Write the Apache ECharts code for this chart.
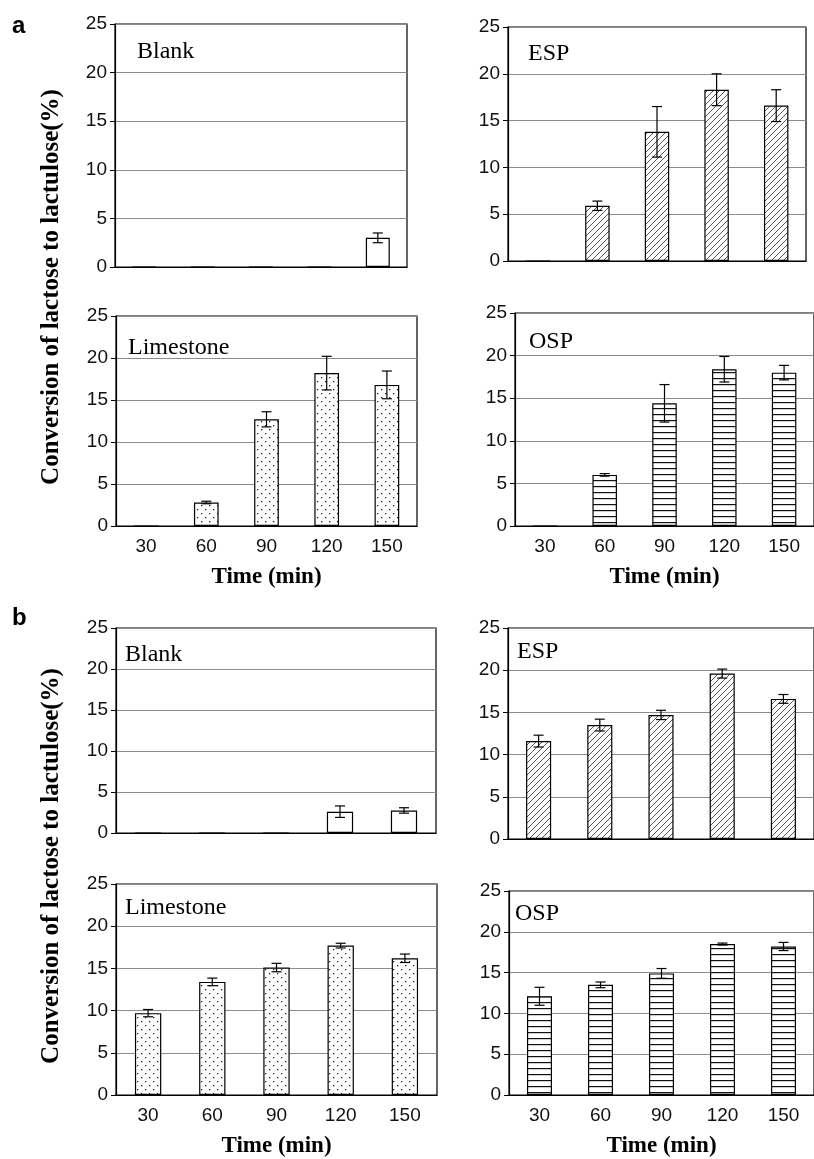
<!DOCTYPE html>
<html>
<head>
<meta charset="utf-8">
<script src="https://cdn.jsdelivr.net/npm/echarts@6/dist/echarts.min.js"></script>
<style>
  html, body { margin: 0; padding: 0; background: #fff; }
  #chart { width: 814px; height: 1159px; }
</style>
</head>
<body>
<div id="chart"></div>
<script>
// time points (min)
const timeLabels = ['30', '60', '90', '120', '150']

// panel a
const aBlank = [0, 0, 0, 0, 3.0]
const aBlankErr = [0, 0, 0, 0, 0.5]
const aEsp = [0, 5.9, 13.8, 18.3, 16.6]
const aEspErr = [0, 0.5, 2.7, 1.7, 1.7]
const aLime = [0, 2.8, 12.7, 18.2, 16.8]
const aLimeErr = [0, 0.15, 0.9, 2.0, 1.65]
const aOsp = [0, 6.0, 14.4, 18.4, 18.0]
const aOspErr = [0, 0.15, 2.2, 1.5, 0.85]

// panel b
const bBlank = [0, 0, 0, 2.6, 2.75]
const bBlankErr = [0, 0, 0, 0.7, 0.33]
const bEsp = [11.6, 13.5, 14.7, 19.6, 16.6]
const bEspErr = [0.7, 0.7, 0.55, 0.53, 0.52]
const bLime = [9.7, 13.4, 15.1, 17.7, 16.2]
const bLimeErr = [0.43, 0.45, 0.5, 0.28, 0.5]
const bOsp = [12.1, 13.5, 14.9, 18.5, 18.2]
const bOspErr = [1.1, 0.35, 0.6, 0.12, 0.5]

const yTicks = { min: 0, max: 25, interval: 5 }

const SERIF = '"Liberation Serif", "Times New Roman", serif'
const SANS = '"Liberation Sans", Arial, sans-serif'

// fill patterns
function makePattern(kind) {
  const c = document.createElement('canvas')
  const ctx = c.getContext('2d')
  if (kind === 'hatch') {
    c.width = 6; c.height = 6
    ctx.fillStyle = '#fff'; ctx.fillRect(0, 0, 6, 6)
    ctx.strokeStyle = '#444'; ctx.lineWidth = 0.9
    ctx.beginPath()
    ctx.moveTo(-1, 7); ctx.lineTo(7, -1)
    ctx.moveTo(-1, 1); ctx.lineTo(1, -1)
    ctx.moveTo(5, 7); ctx.lineTo(7, 5)
    ctx.stroke()
  } else if (kind === 'dots') {
    c.width = 8; c.height = 8
    ctx.fillStyle = '#fff'; ctx.fillRect(0, 0, 8, 8)
    ctx.fillStyle = '#222'
    ctx.fillRect(1, 1, 1.3, 1.3)
    ctx.fillRect(5, 5, 1.3, 1.3)
  } else if (kind === 'hlines') {
    c.width = 4; c.height = 6
    ctx.fillStyle = '#fff'; ctx.fillRect(0, 0, 4, 6)
    ctx.fillStyle = '#111'
    ctx.fillRect(0, 0, 4, 1.2)
  } else {
    return '#fff'
  }
  return { image: c, repeat: 'repeat' }
}

const panels = [
  { name: 'Blank', vals: aBlank, errs: aBlankErr, fill: 'none', grid: { left: 115, top: 24, width: 292, height: 243 }, bottom: false, tag: [137, 53] },
  { name: 'ESP', vals: aEsp, errs: aEspErr, fill: 'hatch', grid: { left: 508, top: 27, width: 298, height: 234 }, bottom: false, tag: [528, 55] },
  { name: 'Limestone', vals: aLime, errs: aLimeErr, fill: 'dots', grid: { left: 116, top: 316, width: 301, height: 210 }, bottom: true, tag: [128, 349] },
  { name: 'OSP', vals: aOsp, errs: aOspErr, fill: 'hlines', grid: { left: 515, top: 313, width: 303, height: 213 }, bottom: true, tag: [529, 343] },
  { name: 'Blank', vals: bBlank, errs: bBlankErr, fill: 'none', grid: { left: 116, top: 628, width: 320, height: 205 }, bottom: false, tag: [125, 656] },
  { name: 'ESP', vals: bEsp, errs: bEspErr, fill: 'hatch', grid: { left: 508, top: 628, width: 310, height: 211 }, bottom: false, tag: [517, 653] },
  { name: 'Limestone', vals: bLime, errs: bLimeErr, fill: 'dots', grid: { left: 116, top: 884, width: 321, height: 215 }, bottom: true, tag: [125, 909] },
  { name: 'OSP', vals: bOsp, errs: bOspErr, fill: 'hlines', grid: { left: 509, top: 891, width: 311, height: 208 }, bottom: true, tag: [515, 915] }
]

function errorBar(params, api) {
  const idx = api.value(0)
  const v = api.value(1)
  const e = api.value(2)
  if (!e) return
  const hi = api.coord([idx, v + e])
  const lo = api.coord([idx, v - e])
  const half = 5
  const style = { stroke: '#000', lineWidth: 1.2 }
  return {
    type: 'group',
    children: [
      { type: 'line', shape: { x1: hi[0], y1: hi[1], x2: lo[0], y2: lo[1] }, style },
      { type: 'line', shape: { x1: hi[0] - half, y1: hi[1], x2: hi[0] + half, y2: hi[1] }, style },
      { type: 'line', shape: { x1: lo[0] - half, y1: lo[1], x2: lo[0] + half, y2: lo[1] }, style }
    ]
  }
}

const chart = echarts.init(document.getElementById('chart'), null, { renderer: 'canvas' })

const grid = []
const xAxis = []
const yAxis = []
const series = []
const graphic = []

panels.forEach((p, i) => {
  grid.push(Object.assign({ show: true, borderColor: '#000', borderWidth: 1.2, backgroundColor: 'transparent' }, p.grid))
  xAxis.push({
    type: 'category',
    gridIndex: i,
    data: timeLabels,
    axisLine: { lineStyle: { color: '#000', width: 1.2 } },
    axisTick: { show: false },
    axisLabel: { show: p.bottom, color: '#111', fontFamily: SANS, fontSize: 19, margin: 11 },
    name: p.bottom ? 'Time (min)' : '',
    nameLocation: 'middle',
    nameGap: 40,
    nameTextStyle: { color: '#000', fontFamily: SERIF, fontWeight: 'bold', fontSize: 23 }
  })
  yAxis.push({
    type: 'value',
    gridIndex: i,
    min: yTicks.min,
    max: yTicks.max,
    interval: yTicks.interval,
    axisLine: { show: true, lineStyle: { color: '#000', width: 1.2 } },
    axisTick: { show: true, length: 5, lineStyle: { color: '#000' } },
    axisLabel: { color: '#111', fontFamily: SANS, fontSize: 19, margin: 8 },
    splitLine: { show: true, lineStyle: { color: '#8c8c8c', width: 1 } }
  })
  series.push({
    type: 'bar',
    xAxisIndex: i,
    yAxisIndex: i,
    data: p.vals,
    barWidth: '41%',
    itemStyle: { color: makePattern(p.fill), borderColor: '#000', borderWidth: 1.2 },
    silent: true,
    animation: false
  })
  series.push({
    type: 'custom',
    xAxisIndex: i,
    yAxisIndex: i,
    data: p.vals.map((v, k) => [k, v, p.errs[k]]),
    renderItem: errorBar,
    z: 5,
    silent: true,
    animation: false
  })
  graphic.push({
    type: 'text',
    left: p.tag[0],
    top: p.tag[1] - 13,
    style: { text: p.name, fill: '#000', font: '24px ' + SERIF }
  })
})

// panel letters and shared y-axis titles
graphic.push(
  { type: 'text', left: 12, top: 14, style: { text: 'a', fill: '#000', font: 'bold 24px ' + SANS } },
  { type: 'text', left: 12, top: 606, style: { text: 'b', fill: '#000', font: 'bold 24px ' + SANS } },
  {
    type: 'text', x: 52, y: 287, rotation: Math.PI / 2,
    style: { text: 'Conversion of lactose to lactulose(%)', fill: '#000', font: 'bold 25px ' + SERIF, textAlign: 'center', textVerticalAlign: 'middle' }
  },
  {
    type: 'text', x: 52, y: 866, rotation: Math.PI / 2,
    style: { text: 'Conversion of lactose to lactulose(%)', fill: '#000', font: 'bold 25px ' + SERIF, textAlign: 'center', textVerticalAlign: 'middle' }
  }
)

chart.setOption({
  animation: false,
  backgroundColor: '#fff',
  grid,
  xAxis,
  yAxis,
  series,
  graphic
})
</script>
</body>
</html>
